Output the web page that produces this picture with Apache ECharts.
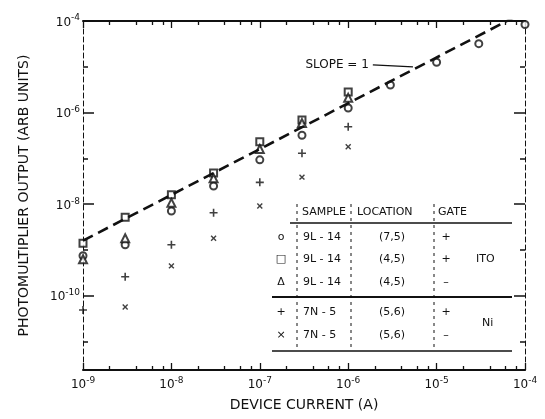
<!DOCTYPE html>
<html>
<head>
<meta charset="utf-8">
<script src="https://cdn.jsdelivr.net/npm/echarts@6/dist/echarts.min.js"></script>
<style>
  html, body { margin: 0; padding: 0; background: #fff; }
  #chart { width: 545px; height: 419px; }
</style>
</head>
<body>
<div id="chart"></div>
<script>
// Device current (A) for each measurement column
const current = [1e-9, 3e-9, 1e-8, 3e-8, 1e-7, 3e-7, 1e-6, 3e-6, 1e-5, 3e-5, 1e-4];

// Photomultiplier output (arbitrary units) per sample / location / gate
const out9L14_75_pos = [7.5e-10, 1.3e-9, 7.1e-9, 2.5e-8, 9.3e-8, 3.2e-7, 1.26e-6, 4.0e-6, 1.26e-5, 3.2e-5, 8.4e-5];
const out9L14_45_pos = [1.4e-9, 5.2e-9, 1.6e-8, 4.8e-8, 2.3e-7, 6.9e-7, 2.8e-6];
const out9L14_45_neg = [6.3e-10, 1.8e-9, 1.07e-8, 3.7e-8, 1.6e-7, 5.9e-7, 2.1e-6];
const out7N5_56_pos  = [4.9e-11, 2.6e-10, 1.3e-9, 6.5e-9, 3.0e-8, 1.3e-7, 4.9e-7];
const out7N5_56_neg  = [null, 5.7e-11, 4.5e-10, 1.8e-9, 9.1e-9, 3.9e-8, 1.8e-7];

// Reference line of slope 1
const slopeX = [1e-9, 1e-4];
const slopeY = [1.6e-9, 1.6e-4];

// Axis ticks
const xMajorTicks = [1e-9, 1e-8, 1e-7, 1e-6, 1e-5, 1e-4];
const xMinorTicks = [2e-9, 4e-9, 6e-9, 8e-9, 2e-8, 4e-8, 6e-8, 8e-8, 2e-7, 4e-7, 6e-7, 8e-7,
                     2e-6, 4e-6, 6e-6, 8e-6, 2e-5, 4e-5, 6e-5, 8e-5];
const yMajorTicks = [1e-10, 1e-8, 1e-6, 1e-4];
const yMinorTicks = [1e-11, 1e-9, 1e-7, 1e-5];

// Legend table contents
const legendMarks = ['o', '\u25A1', '\u0394', '+', '\u00D7'];
const legendSamples = ['9L - 14', '9L - 14', '9L - 14', '7N - 5', '7N - 5'];
const legendLocations = ['(7,5)', '(4,5)', '(4,5)', '(5,6)', '(5,6)'];
const legendGates = ['+', '+', '\u2013', '+', '\u2013'];

const INK = '#111';
const FONT = 'DejaVu Sans';

const plusPath = 'path://M4,0H6V4H10V6H6V10H4V6H0V4H4Z';

const pairs = (ys) => ys.map((y, i) => [current[i], y]).filter(p => p[1] != null);

const powRich = {
  b: { fontSize: 12, fontFamily: FONT, color: INK, verticalAlign: 'bottom' },
  s: { fontSize: 9, fontFamily: FONT, color: INK, verticalAlign: 'top', padding: [0, 0, 6, 0] }
};
const powLabel = (v) => '{b|10}{s|' + Math.round(Math.log10(v)) + '}';

const X_MIN = 1e-9, X_MAX = 1e-4, Y_MIN = 2.4e-12, Y_MAX = 1e-4;

function xAxisDef(pos, ticks, len, line, labels) {
  return {
    type: 'log', min: X_MIN, max: X_MAX, position: pos, gridIndex: 0,
    axisLine: { show: line, onZero: false, lineStyle: { color: INK, width: 2 } },
    axisTick: { show: true, inside: true, length: len, customValues: ticks, lineStyle: { color: INK, width: 1.3 } },
    axisLabel: labels ? { show: true, customValues: ticks, formatter: powLabel, rich: powRich, margin: 6 } : { show: false },
    splitLine: { show: false }, minorTick: { show: false }
  };
}
function yAxisDef(pos, ticks, len, line, labels) {
  return {
    type: 'log', min: Y_MIN, max: Y_MAX, position: pos, gridIndex: 0,
    axisLine: { show: line, onZero: false, lineStyle: { color: INK, width: 1, type: [5, 3] } },
    axisTick: { show: true, inside: true, length: len, customValues: ticks, lineStyle: { color: INK, width: 1.5 } },
    axisLabel: labels ? { show: true, customValues: ticks, formatter: powLabel, rich: powRich, margin: 3 } : { show: false },
    splitLine: { show: false }, minorTick: { show: false }
  };
}

const xAxes = [
  xAxisDef('bottom', xMajorTicks, 7, true, true),
  xAxisDef('bottom', xMinorTicks, 4, false, false),
  xAxisDef('top', xMajorTicks, 7, true, false),
  xAxisDef('top', xMinorTicks, 4, false, false)
];
Object.assign(xAxes[0], {
  name: 'DEVICE CURRENT (A)', nameLocation: 'middle', nameGap: 28,
  nameTextStyle: { fontFamily: FONT, fontSize: 14, color: INK }
});

const yAxes = [
  yAxisDef('left', yMajorTicks, 11, true, true),
  yAxisDef('left', yMinorTicks, 5, false, false),
  yAxisDef('right', yMajorTicks, 11, true, false),
  yAxisDef('right', yMinorTicks, 5, false, false)
];
Object.assign(yAxes[0], {
  name: 'PHOTOMULTIPLIER OUTPUT (ARB UNITS)', nameLocation: 'middle', nameGap: 52, nameRotate: 90,
  nameTextStyle: { fontFamily: FONT, fontSize: 14, color: INK }
});

// Legend table drawn as text + rules
const rowY = [237, 259, 282, 312, 335];
const tableText = (x, y, t, align) => ({
  type: 'text', x, y, silent: true,
  style: { text: t, fontFamily: FONT, fontSize: 11, fill: INK, align: align || 'left', verticalAlign: 'middle' }
});
const rule = (x1, y1, x2, y2, w, dash) => ({
  type: 'line', silent: true,
  shape: { x1, y1, x2, y2 },
  style: { stroke: INK, lineWidth: w, lineDash: dash || null }
});
const graphics = [
  tableText(302, 212, 'SAMPLE'),
  tableText(357, 212, 'LOCATION'),
  tableText(438, 212, 'GATE'),
  rule(290, 223, 512, 223, 1.5),
  rule(272, 297, 512, 297, 2),
  rule(272, 351, 512, 351, 1.5),
  rule(297, 204, 297, 350, 1, [3, 4]),
  rule(351, 204, 351, 350, 1, [3, 4]),
  rule(434, 204, 434, 350, 1, [3, 4]),
  tableText(476, 259, 'ITO'),
  tableText(482, 323, 'Ni')
];
legendMarks.forEach((m, i) => {
  graphics.push(tableText(281, rowY[i], m, 'center'));
  graphics.push(tableText(303, rowY[i], legendSamples[i]));
  graphics.push(tableText(392, rowY[i], legendLocations[i], 'center'));
  graphics.push(tableText(446, rowY[i], legendGates[i], 'center'));
});

const markerStyle = { color: INK, borderColor: INK, borderWidth: 1.4 };

const option = {
  backgroundColor: '#fff',
  animation: false,
  grid: { left: 83, right: 20, top: 21, bottom: 49, containLabel: false },
  xAxis: xAxes,
  yAxis: yAxes,
  graphic: graphics,
  series: [
    {
      name: 'slope', type: 'line', data: slopeX.map((x, i) => [x, slopeY[i]]),
      showSymbol: false, symbol: 'none', clip: true, silent: true,
      lineStyle: { color: INK, width: 2.6, type: [11, 6] },
      markLine: {
        silent: true, symbol: ['none', 'arrow'], symbolSize: [0, 9],
        lineStyle: { type: 'solid', color: INK, width: 1.2 },
        label: { show: true, position: 'start', distance: 4, formatter: 'SLOPE = 1',
                 fontFamily: FONT, fontSize: 12, color: INK },
        data: [[{ coord: [1.9e-6, 1.1e-5] }, { coord: [5.4e-6, 1.0e-5] }]]
      }
    },
    { name: 'o 9L-14 (7,5) +', type: 'scatter', symbol: 'emptyCircle', symbolSize: 7,
      itemStyle: markerStyle, data: pairs(out9L14_75_pos) },
    { name: 'sq 9L-14 (4,5) +', type: 'scatter', symbol: 'emptyRect', symbolSize: 7,
      itemStyle: markerStyle, data: pairs(out9L14_45_pos) },
    { name: 'tri 9L-14 (4,5) -', type: 'scatter', symbol: 'emptyTriangle', symbolSize: 8,
      itemStyle: markerStyle, data: pairs(out9L14_45_neg) },
    { name: '+ 7N-5 (5,6) +', type: 'scatter', symbol: plusPath, symbolSize: 8,
      itemStyle: { color: INK }, data: pairs(out7N5_56_pos) },
    { name: 'x 7N-5 (5,6) -', type: 'scatter', symbol: plusPath, symbolSize: 7, symbolRotate: 45,
      itemStyle: { color: INK }, data: pairs(out7N5_56_neg) }
  ]
};

echarts.init(document.getElementById('chart'), null, { renderer: 'canvas' }).setOption(option);
</script>
</body>
</html>
